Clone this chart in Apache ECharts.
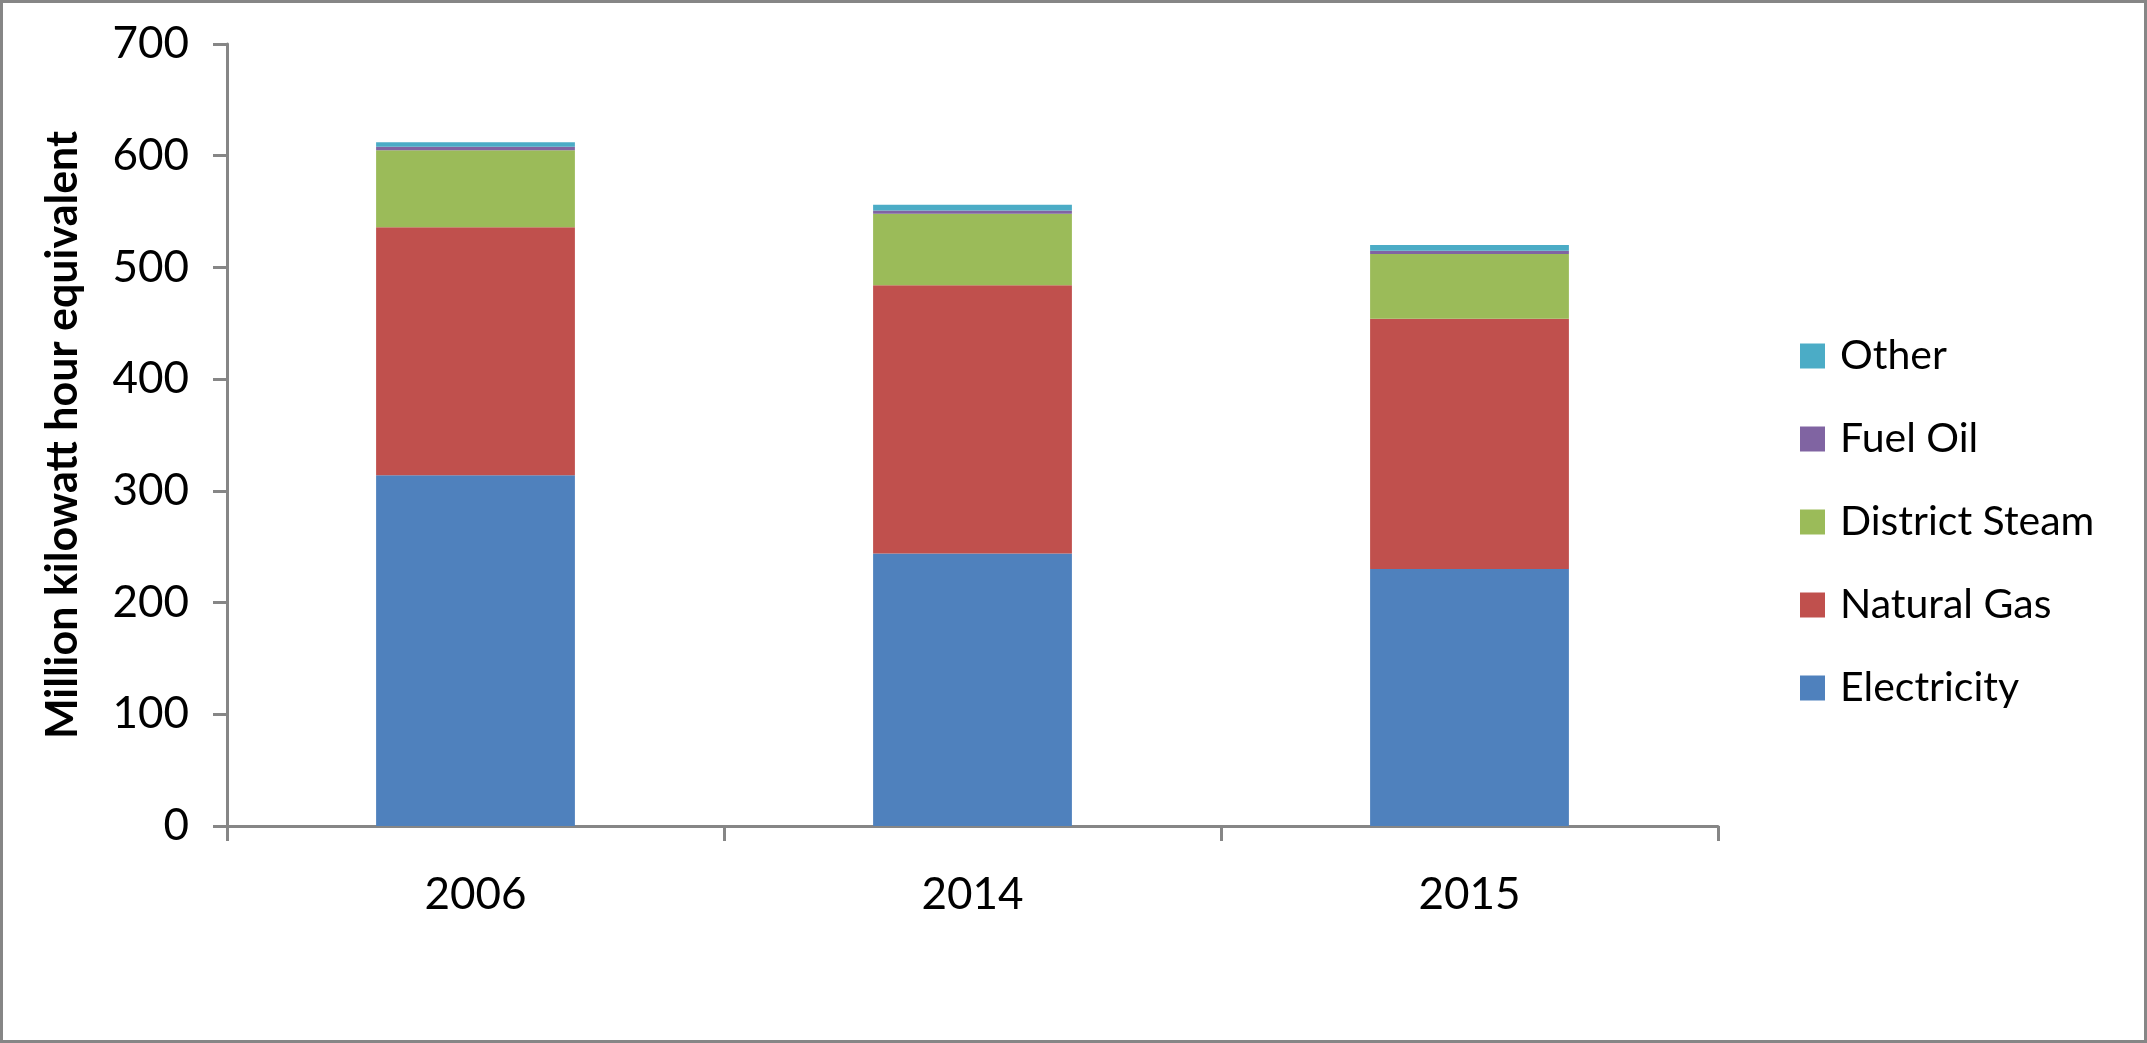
<!DOCTYPE html>
<html>
<head>
<meta charset="utf-8">
<script src="https://cdn.jsdelivr.net/npm/echarts@6/dist/echarts.min.js"></script>
<style>
  html, body { margin: 0; padding: 0; background: #fff; }
  #chart { width: 2147px; height: 1043px; }
</style>
</head>
<body>
<div id="chart"></div>
<script>
// categories and series values (million kWh equivalent)
var years = ['2006', '2014', '2015'];
var electricity = [314, 244, 230];
var naturalGas = [222, 240, 224];
var districtSteam = [69, 64, 58];
var fuelOil = [3, 3, 3];
var other = [4, 5, 5];
var yTicks = [0, 100, 200, 300, 400, 500, 600, 700];

(function() {
    var font = 'Lato, "Open Sans", sans-serif';
    var axisGray = '#868686';

    var mk = function(name, data, color) {
        return {
            name: name,
            type: 'bar',
            stack: 'total',
            barCategoryGap: '60%',
            itemStyle: { color: color },
            data: data
        };
    };

    var series = [
        mk('Electricity', electricity, '#4F81BD'),
        mk('Natural Gas', naturalGas, '#C0504D'),
        mk('District Steam', districtSteam, '#9BBB59'),
        mk('Fuel Oil', fuelOil, '#8064A2'),
        mk('Other', other, '#4BACC6')
    ];

    var chart = echarts.init(document.getElementById('chart'));
    var option = {
        animation: false,
        textStyle: { fontFamily: font },
        graphic: [{
            type: 'rect',
            shape: { x: 1.5, y: 1.5, width: 2144, height: 1040 },
            style: { fill: 'none', stroke: axisGray, lineWidth: 3 },
            silent: true
        }],
        grid: {
            left: 227,
            right: 429,
            top: 44,
            bottom: 217
        },
        legend: {
            data: ['Other', 'Fuel Oil', 'District Steam', 'Natural Gas', 'Electricity'],
            orient: 'vertical',
            left: 1795,
            top: 330,
            icon: 'rect',
            itemWidth: 25,
            itemHeight: 25,
            itemGap: 41,
            textStyle: {
                fontFamily: font,
                fontSize: 41,
                lineHeight: 42,
                color: '#000',
                padding: [0, 0, 0, 10]
            }
        },
        xAxis: {
            type: 'category',
            data: years,
            axisLine: { lineStyle: { color: axisGray, width: 3 } },
            axisTick: { show: true, length: 15, lineStyle: { color: axisGray, width: 3 } },
            axisLabel: {
                margin: 47,
                fontSize: 44,
                color: '#000',
                fontFamily: font
            }
        },
        yAxis: {
            type: 'value',
            min: yTicks[0],
            max: yTicks[yTicks.length - 1],
            interval: 100,
            name: 'Million kilowatt hour equivalent',
            nameLocation: 'middle',
            nameGap: 142,
            nameTextStyle: {
                fontFamily: font,
                fontSize: 43,
                fontWeight: 'bold',
                color: '#000'
            },
            axisLine: { show: true, lineStyle: { color: axisGray, width: 3 } },
            axisTick: { show: true, length: 14, lineStyle: { color: axisGray, width: 3 } },
            splitLine: { show: false },
            axisLabel: {
                margin: 38,
                fontSize: 44,
                color: '#000',
                fontFamily: font
            }
        },
        series: series
    };
    chart.setOption(option);
})();
</script>
</body>
</html>
